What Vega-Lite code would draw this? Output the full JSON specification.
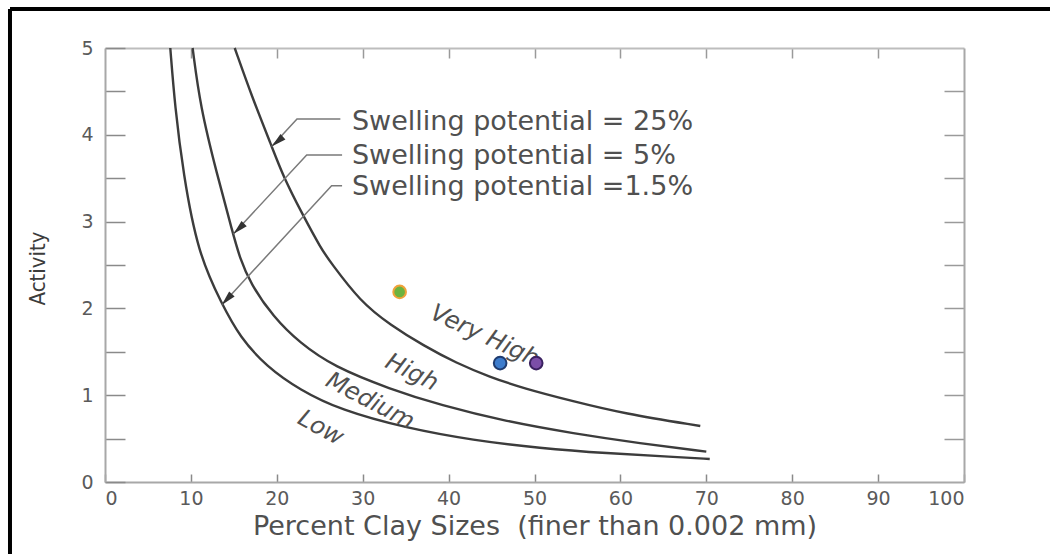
{
  "$schema": "https://vega.github.io/schema/vega-lite/v6.json",
  "width": 859,
  "height": 434,
  "autosize": "none",
  "padding": {"left": 105, "top": 48, "right": 86, "bottom": 72},
  "background": "white",
  "config": {"view": {"stroke": null}},
  "datasets": {
    "curves": [
      {"series": "25%", "x": 15.1, "y": 5.0},
      {"series": "25%", "x": 17.1, "y": 4.44},
      {"series": "25%", "x": 19.4, "y": 3.87},
      {"series": "25%", "x": 20.75, "y": 3.52},
      {"series": "25%", "x": 22.9, "y": 3.1},
      {"series": "25%", "x": 25.2, "y": 2.68},
      {"series": "25%", "x": 26.2, "y": 2.54},
      {"series": "25%", "x": 29.7, "y": 2.08},
      {"series": "25%", "x": 33.2, "y": 1.81},
      {"series": "25%", "x": 37.1, "y": 1.57},
      {"series": "25%", "x": 40.9, "y": 1.37},
      {"series": "25%", "x": 44.8, "y": 1.21},
      {"series": "25%", "x": 48.7, "y": 1.08},
      {"series": "25%", "x": 54.5, "y": 0.93},
      {"series": "25%", "x": 60.3, "y": 0.79},
      {"series": "25%", "x": 69.3, "y": 0.645},
      {"series": "5%", "x": 10.2, "y": 5.0},
      {"series": "5%", "x": 11.1, "y": 4.32},
      {"series": "5%", "x": 13.0, "y": 3.56},
      {"series": "5%", "x": 14.9, "y": 2.86},
      {"series": "5%", "x": 15.7, "y": 2.58},
      {"series": "5%", "x": 16.9, "y": 2.29},
      {"series": "5%", "x": 19.6, "y": 1.9},
      {"series": "5%", "x": 22.7, "y": 1.6},
      {"series": "5%", "x": 26.6, "y": 1.33},
      {"series": "5%", "x": 33.2, "y": 1.07},
      {"series": "5%", "x": 39.0, "y": 0.887},
      {"series": "5%", "x": 46.8, "y": 0.695},
      {"series": "5%", "x": 54.5, "y": 0.56},
      {"series": "5%", "x": 62.3, "y": 0.445},
      {"series": "5%", "x": 70.0, "y": 0.35},
      {"series": "1.5%", "x": 7.6, "y": 5.0},
      {"series": "1.5%", "x": 8.15, "y": 4.32},
      {"series": "1.5%", "x": 9.1, "y": 3.56},
      {"series": "1.5%", "x": 10.8, "y": 2.64},
      {"series": "1.5%", "x": 13.6, "y": 2.05},
      {"series": "1.5%", "x": 15.7, "y": 1.67},
      {"series": "1.5%", "x": 18.8, "y": 1.33},
      {"series": "1.5%", "x": 22.7, "y": 1.06},
      {"series": "1.5%", "x": 27.4, "y": 0.83},
      {"series": "1.5%", "x": 35.1, "y": 0.62},
      {"series": "1.5%", "x": 42.9, "y": 0.48},
      {"series": "1.5%", "x": 50.6, "y": 0.39},
      {"series": "1.5%", "x": 58.4, "y": 0.33},
      {"series": "1.5%", "x": 66.2, "y": 0.29},
      {"series": "1.5%", "x": 70.4, "y": 0.265}
    ],
    "leaders": [
      {"series": "25%", "x": 19.4, "y": 3.864},
      {"series": "25%", "x": 22.35, "y": 4.182},
      {"series": "25%", "x": 27.4, "y": 4.182},
      {"series": "5%", "x": 14.94, "y": 2.857},
      {"series": "5%", "x": 23.48, "y": 3.767},
      {"series": "5%", "x": 27.6, "y": 3.767},
      {"series": "1.5%", "x": 13.58, "y": 2.039},
      {"series": "1.5%", "x": 26.38, "y": 3.414},
      {"series": "1.5%", "x": 27.6, "y": 3.414}
    ],
    "tips": [
      {"series": "25%", "x": 19.4, "y": 3.864},
      {"series": "5%", "x": 14.94, "y": 2.857},
      {"series": "1.5%", "x": 13.58, "y": 2.039}
    ],
    "notes": [
      {"label": "Swelling potential = 25%", "x": 28.75, "y": 4.15},
      {"label": "Swelling potential = 5%", "x": 28.75, "y": 3.755},
      {"label": "Swelling potential =1.5%", "x": 28.75, "y": 3.4}
    ],
    "zones": [
      {"zone": "Very High", "x": 44.2, "y": 1.68},
      {"zone": "High", "x": 35.7, "y": 1.26},
      {"zone": "Medium", "x": 30.85, "y": 0.93},
      {"zone": "Low", "x": 25.1, "y": 0.62}
    ],
    "samples": [
      {"sample": "A", "x": 34.3, "y": 2.19},
      {"sample": "B", "x": 46.0, "y": 1.37},
      {"sample": "C", "x": 50.2, "y": 1.37}
    ],
    "frame": [
      {"x": -11.06, "x2": 112, "y": 5.449, "y2": 5.449},
      {"x": -11.06, "x2": -11.06, "y": 5.449, "y2": -0.95}
    ]
  },
  "layer": [
    {
      "data": {"name": "curves"},
      "mark": {"type": "line", "color": "#3c3c3c", "strokeWidth": 2.4, "interpolate": "basis"},
      "encoding": {
        "x": {
          "field": "x", "type": "quantitative",
          "scale": {"domain": [0, 100], "nice": false, "zero": false},
          "axis": {
            "orient": "bottom",
            "values": [0, 10, 20, 30, 40, 50, 60, 70, 80, 90, 100],
            "tickSize": -8, "tickColor": "#8a8a8a", "tickWidth": 1.5,
            "domainColor": "#a8a8a8", "domainWidth": 2,
            "grid": false,
            "labelFont": "DejaVu Sans", "labelFontSize": 19, "labelColor": "#5a5a5a",
            "labelPadding": 15,
            "title": "Percent Clay Sizes\u00a0 (finer than 0.002 mm)",
            "titleFont": "DejaVu Sans", "titleFontSize": 27, "titleFontWeight": "normal",
            "titleColor": "#505050", "titlePadding": 5
          }
        },
        "y": {
          "field": "y", "type": "quantitative",
          "scale": {"domain": [0, 5], "nice": false, "zero": false},
          "axis": {
            "orient": "left",
            "values": [0, 0.5, 1, 1.5, 2, 2.5, 3, 3.5, 4, 4.5, 5],
            "labelExpr": "datum.value % 1 === 0 ? format(datum.value, 'd') : ''",
            "tickSize": -20, "tickColor": "#8a8a8a", "tickWidth": 1.5,
            "domainColor": "#a8a8a8", "domainWidth": 2,
            "grid": false,
            "labelFont": "DejaVu Sans", "labelFontSize": 19, "labelColor": "#5a5a5a",
            "labelPadding": 32,
            "title": "Activity",
            "titleFont": "Liberation Sans Narrow, DejaVu Sans Condensed, sans-serif",
            "titleFontSize": 22, "titleFontWeight": "normal", "titleColor": "#3c3c3c",
            "titleAngle": -90, "titleX": -68, "titleY": 220,
            "titleAlign": "center", "titleBaseline": "middle"
          }
        },
        "detail": {"field": "series"}
      }
    },
    {
      "data": {"name": "leaders"},
      "mark": {"type": "line", "color": "#7a7a7a", "strokeWidth": 1.5},
      "encoding": {
        "x": {
          "field": "x", "type": "quantitative",
          "scale": {"domain": [0, 100], "nice": false, "zero": false},
          "axis": {
            "orient": "top",
            "values": [10, 20, 30, 40, 50, 60, 70, 80, 90],
            "tickSize": -10, "tickColor": "#9a9a9a", "tickWidth": 1.5,
            "domainColor": "#bdbdbd", "domainWidth": 2,
            "labels": false, "grid": false, "title": null
          }
        },
        "y": {
          "field": "y", "type": "quantitative",
          "scale": {"domain": [0, 5], "nice": false, "zero": false},
          "axis": {
            "orient": "right",
            "values": [0.5, 1, 1.5, 2, 2.5, 3, 3.5, 4, 4.5],
            "tickSize": -20, "tickColor": "#9a9a9a", "tickWidth": 1.5,
            "domainColor": "#a8a8a8", "domainWidth": 2,
            "labels": false, "grid": false, "title": null
          }
        },
        "detail": {"field": "series"}
      }
    },
    {
      "data": {"name": "tips"},
      "mark": {"type": "point", "filled": true, "shape": "M0,0L0.5,2L-0.5,2Z", "size": 225, "color": "#333333", "opacity": 1},
      "encoding": {
        "x": {"field": "x", "type": "quantitative", "scale": {"domain": [0, 100], "nice": false, "zero": false}, "axis": null},
        "y": {"field": "y", "type": "quantitative", "scale": {"domain": [0, 5], "nice": false, "zero": false}, "axis": null},
        "angle": {"field": "series", "type": "nominal", "scale": {"domain": ["25%", "5%", "1.5%"], "range": [229, 223, 223]}, "legend": null}
      }
    },
    {
      "data": {"name": "notes"},
      "mark": {"type": "text", "align": "left", "baseline": "middle", "font": "DejaVu Sans", "fontSize": 27, "color": "#505050"},
      "encoding": {
        "x": {"field": "x", "type": "quantitative", "scale": {"domain": [0, 100], "nice": false, "zero": false}, "axis": null},
        "y": {"field": "y", "type": "quantitative", "scale": {"domain": [0, 5], "nice": false, "zero": false}, "axis": null},
        "text": {"field": "label"}
      }
    },
    {
      "data": {"name": "zones"},
      "mark": {"type": "text", "align": "center", "baseline": "middle", "font": "DejaVu Sans", "fontSize": 24, "fontStyle": "italic", "color": "#505050"},
      "encoding": {
        "x": {"field": "x", "type": "quantitative", "scale": {"domain": [0, 100], "nice": false, "zero": false}, "axis": null},
        "y": {"field": "y", "type": "quantitative", "scale": {"domain": [0, 5], "nice": false, "zero": false}, "axis": null},
        "text": {"field": "zone"},
        "angle": {"field": "zone", "type": "nominal", "scale": {"domain": ["Very High", "High", "Medium", "Low"], "range": [25, 29, 26, 27]}, "legend": null}
      }
    },
    {
      "data": {"name": "samples"},
      "mark": {"type": "point", "filled": true, "shape": "circle", "size": 160, "strokeWidth": 2, "opacity": 1},
      "encoding": {
        "x": {"field": "x", "type": "quantitative", "scale": {"domain": [0, 100], "nice": false, "zero": false}, "axis": null},
        "y": {"field": "y", "type": "quantitative", "scale": {"domain": [0, 5], "nice": false, "zero": false}, "axis": null},
        "fill": {"field": "sample", "type": "nominal", "scale": {"domain": ["A", "B", "C"], "range": ["#6cb33f", "#3d7ccc", "#7b4ea8"]}, "legend": null},
        "stroke": {"field": "sample", "type": "nominal", "scale": {"domain": ["A", "B", "C"], "range": ["#f0a23a", "#1f3c70", "#3a2160"]}, "legend": null}
      }
    },
    {
      "data": {"name": "frame"},
      "mark": {"type": "rule", "color": "#000000", "strokeWidth": 4, "clip": false},
      "encoding": {
        "x": {"field": "x", "type": "quantitative", "scale": {"domain": [0, 100], "nice": false, "zero": false}, "axis": null},
        "x2": {"field": "x2"},
        "y": {"field": "y", "type": "quantitative", "scale": {"domain": [0, 5], "nice": false, "zero": false}, "axis": null},
        "y2": {"field": "y2"}
      }
    }
  ],
  "resolve": {
    "axis": {"x": "independent", "y": "independent"},
    "scale": {"angle": "independent", "fill": "independent", "stroke": "independent"}
  }
}
